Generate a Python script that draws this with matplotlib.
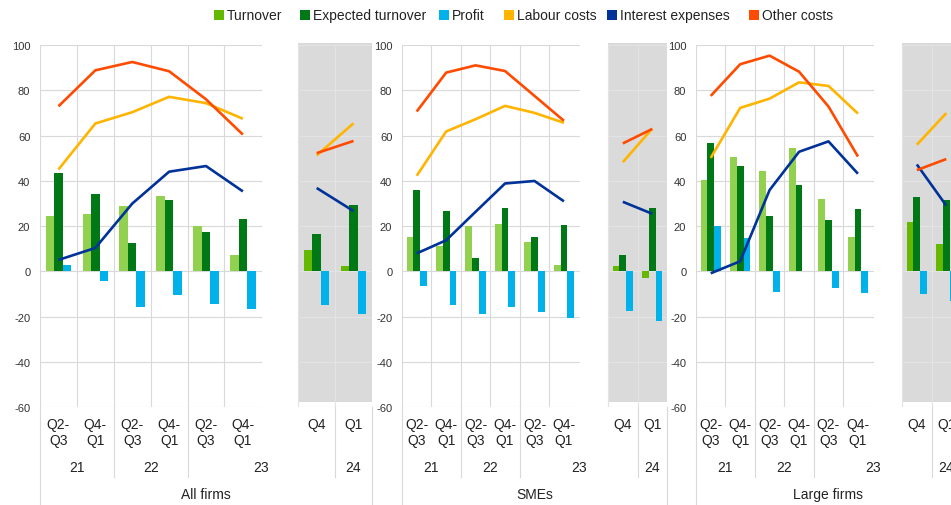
import numpy as np
import matplotlib
matplotlib.use('Agg')
import matplotlib.pyplot as plt
from matplotlib.patches import Rectangle

plt.rcParams['font.family'] = ['Liberation Sans', 'DejaVu Sans']
plt.rcParams['axes.unicode_minus'] = False

# 데이터 #
panels = ['All firms', 'SMEs', 'Large firms']
main_periods = ['Q2-\nQ3', 'Q4-\nQ1', 'Q2-\nQ3', 'Q4-\nQ1', 'Q2-\nQ3', 'Q4-\nQ1']
recent_periods = ['Q4', 'Q1']
years = ['21', '22', '23', '24']

# 각 패널: 앞 6개 = 반기 조사, 뒤 2개 = 분기 조사 (Q4 23, Q1 24)
turnover = [[24.3, 25.1, 28.7, 33.2, 19.9, 7.2, 9.6, 2.4],
            [15.0, 11.0, 19.9, 21.0, 12.9, 2.8, 2.5, -2.8],
            [40.4, 50.6, 44.4, 54.3, 31.9, 15.0, 21.9, 12.2]]
expected = [[43.4, 34.1, 12.6, 31.6, 17.5, 23.1, 16.6, 29.3],
            [36.0, 26.8, 5.7, 27.9, 15.0, 20.3, 7.4, 27.9],
            [56.6, 46.5, 24.3, 38.1, 22.6, 27.5, 32.8, 31.5]]
profit = [[2.9, -4.4, -15.6, -10.3, -14.3, -16.9, -14.7, -18.7],
          [-6.7, -15.0, -19.0, -15.9, -18.2, -20.7, -17.5, -21.9],
          [19.9, 14.7, -9.1, 0.3, -7.4, -9.8, -10.2, -13.2]]
labour = [[45.0, 65.3, 70.3, 77.1, 74.3, 67.4, 51.2, 65.4],
          [42.2, 61.8, 67.2, 73.1, 70.0, 65.6, 48.2, 63.1],
          [50.1, 72.2, 76.3, 83.5, 81.9, 69.7, 55.9, 69.9]]
interest = [[5.0, 10.3, 29.9, 44.0, 46.5, 35.3, 36.8, 26.6],
            [7.9, 13.7, 26.3, 38.8, 39.9, 30.9, 30.7, 25.4],
            [-0.9, 4.4, 35.9, 52.8, 57.4, 43.1, 47.2, 29.0]]
other = [[72.9, 88.8, 92.5, 88.4, 76.0, 60.4, 52.2, 57.6],
         [70.6, 87.8, 91.0, 88.5, 77.5, 66.5, 56.5, 62.9],
         [77.5, 91.5, 95.3, 88.2, 72.8, 50.7, 44.7, 49.6]]

# 색상
c_turn_light = '#92d050'
c_turn = '#65b800'
c_exp = '#007816'
c_profit = '#00b1ea'
c_labour = '#ffb400'
c_interest = '#003299'
c_other = '#ff4b00'
c_grid = '#d9d9d9'
c_shade = '#dadada'

W, H = 951, 506
fig = plt.figure(figsize=(W / 100, H / 100), dpi=100)

TOP, BOT = 46, 408
boxes = [(40, 372), (402, 667), (696, 961)]

def fy(ypix):
    return (BOT - ypix) / (BOT - TOP)

x_main = np.arange(6)
x_recent = np.arange(2) + 7
bw = 0.23

for i, (x0, x1) in enumerate(boxes):
    ax = fig.add_axes([x0 / W, (H - BOT) / H, (x1 - x0) / W, (BOT - TOP) / H])
    ax.set_xlim(-0.5, 8.5)
    ax.set_ylim(-60, 100)
    for s in ax.spines.values():
        s.set_visible(False)
    ax.set_xticks([])
    ax.set_yticks(range(-60, 101, 20))
    ax.tick_params(axis='y', length=0, pad=7, labelsize=8, labelcolor='#333333')

    # 회색 음영 (분기 조사 구간)
    ax.add_patch(Rectangle((6.5, -57.8), 2, 158.8, facecolor=c_shade,
                           edgecolor='none', zorder=0, clip_on=False))

    # 격자선
    for yv in range(-60, 101, 20):
        ax.plot([-0.5, 5.5], [yv, yv], color=c_grid, lw=0.8, zorder=1)
        ax.plot([6.5, 8.5], [yv, yv], color='#e3e3e3' if yv > -60 else c_grid,
                lw=0.8, zorder=1)
    for xv in np.arange(-0.5, 5, 1):
        ax.plot([xv, xv], [-60, 100], color=c_grid, lw=0.8, zorder=1)
    for xv in [6.5, 7.5]:
        ax.plot([xv, xv], [-60, 100], color='#e3e3e3', lw=0.8, zorder=1)

    # 막대
    ax.bar(x_main - bw, turnover[i][:6], width=bw, color=c_turn_light, zorder=2)
    ax.bar(x_recent - bw, turnover[i][6:], width=bw, color=c_turn, zorder=2)
    ax.bar(x_main, expected[i][:6], width=bw, color=c_exp, zorder=2)
    ax.bar(x_recent, expected[i][6:], width=bw, color=c_exp, zorder=2)
    ax.bar(x_main + bw, profit[i][:6], width=bw, color=c_profit, zorder=2)
    ax.bar(x_recent + bw, profit[i][6:], width=bw, color=c_profit, zorder=2)

    # 선
    for vals, col in [(labour[i], c_labour), (interest[i], c_interest), (other[i], c_other)]:
        ax.plot(x_main, vals[:6], color=col, lw=1.9, zorder=3, solid_capstyle='butt')
        ax.plot(x_recent, vals[6:], color=col, lw=1.9, zorder=3, solid_capstyle='butt')

    # x축 라벨 (2단)
    tr = ax.get_xaxis_transform()
    for xv, lab in zip(x_main, main_periods):
        ax.text(xv, fy(433), lab, transform=tr, ha='center', va='center',
                fontsize=10, linespacing=1.15, color='#222222')
    for xv, lab in zip(x_recent, recent_periods):
        ax.text(xv, fy(425), lab, transform=tr, ha='center', va='center',
                fontsize=10, color='#222222')
    for xv, lab in zip([0.5, 2.5, 5.5, 8], years):
        ax.text(xv, fy(468), lab, transform=tr, ha='center', va='center',
                fontsize=10, color='#222222')
    ax.text(4, fy(495), panels[i], transform=tr, ha='center', va='center',
            fontsize=10, color='#222222')

    # 구분선
    for xv, yend in [(-0.5, H), (1.5, 478), (3.5, 478), (7.5, 478), (8.5, H)]:
        ax.plot([xv, xv], [0, fy(yend)], transform=tr, color=c_grid, lw=0.8,
                clip_on=False)

# 범례 (수동 배치)
legend_items = [('Turnover', c_turn, 214), ('Expected turnover', c_exp, 300),
                ('Profit', c_profit, 439), ('Labour costs', c_labour, 504),
                ('Interest expenses', c_interest, 607), ('Other costs', c_other, 749)]
for lab, col, xp in legend_items:
    fig.patches.append(Rectangle((xp / W, 1 - 21 / H), 10 / W, 10 / H,
                                 facecolor=col, edgecolor='none',
                                 transform=fig.transFigure, figure=fig))
    fig.text((xp + 13) / W, 1 - 16 / H, lab, ha='left', va='center',
             fontsize=10, color='#222222')

fig.savefig('out.png', dpi=100)
